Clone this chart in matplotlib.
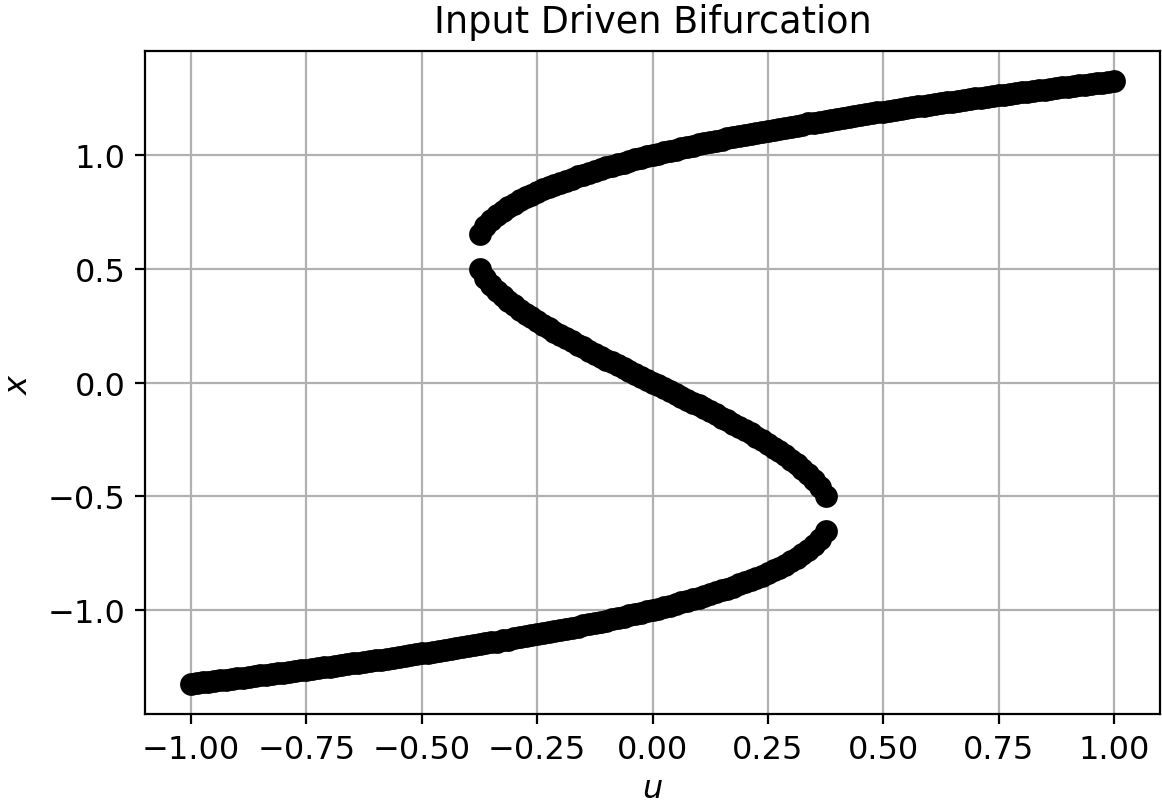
import matplotlib
matplotlib.use("Agg")
import matplotlib.pyplot as plt

# Upper branch (u from -0.375 to 1.0)
u_upper = [-0.375 + 0.0125 * i for i in range(111)]
x_upper = [0.651, 0.688, 0.714, 0.736, 0.754, 0.771, 0.786, 0.801, 0.814, 0.826,
           0.838, 0.849, 0.859, 0.869, 0.879, 0.888, 0.897, 0.906, 0.914, 0.922,
           0.930, 0.938, 0.946, 0.953, 0.960, 0.967, 0.974, 0.981, 0.987, 0.994,
           1.000, 1.006, 1.012, 1.018, 1.024, 1.030, 1.036, 1.041, 1.047, 1.052,
           1.057, 1.063, 1.068, 1.073, 1.078, 1.083, 1.088, 1.093, 1.098, 1.102,
           1.107, 1.112, 1.116, 1.121, 1.125, 1.130, 1.134, 1.139, 1.143, 1.147,
           1.151, 1.156, 1.160, 1.164, 1.168, 1.172, 1.176, 1.180, 1.184, 1.188,
           1.191, 1.195, 1.199, 1.203, 1.207, 1.210, 1.214, 1.218, 1.221, 1.225,
           1.228, 1.232, 1.235, 1.239, 1.242, 1.246, 1.249, 1.253, 1.256, 1.259,
           1.263, 1.266, 1.269, 1.272, 1.276, 1.279, 1.282, 1.285, 1.288, 1.291,
           1.295, 1.298, 1.301, 1.304, 1.307, 1.310, 1.313, 1.316, 1.319, 1.322,
           1.325]

# Middle branch (u from -0.375 to 0.375)
u_middle = [-0.375 + 0.0125 * i for i in range(61)]
x_middle = [0.500, 0.460, 0.429, 0.403, 0.380, 0.359, 0.339, 0.320, 0.303, 0.286,
            0.270, 0.254, 0.239, 0.224, 0.209, 0.195, 0.181, 0.167, 0.154, 0.140,
            0.127, 0.114, 0.101, 0.088, 0.075, 0.063, 0.050, 0.038, 0.025, 0.013,
            0.000,
            -0.013, -0.025, -0.038, -0.050, -0.063, -0.075, -0.088, -0.101, -0.114,
            -0.127, -0.140, -0.154, -0.167, -0.181, -0.195, -0.209, -0.224, -0.239,
            -0.254, -0.270, -0.286, -0.303, -0.320, -0.339, -0.359, -0.380, -0.403,
            -0.429, -0.460, -0.500]

# Lower branch (u from -1.0 to 0.375)
u_lower = [-1.0 + 0.0125 * i for i in range(111)]
x_lower = [-1.325, -1.322, -1.319, -1.316, -1.313, -1.310, -1.307, -1.304, -1.301, -1.298,
           -1.295, -1.291, -1.288, -1.285, -1.282, -1.279, -1.276, -1.272, -1.269, -1.266,
           -1.263, -1.259, -1.256, -1.253, -1.249, -1.246, -1.242, -1.239, -1.235, -1.232,
           -1.228, -1.225, -1.221, -1.218, -1.214, -1.210, -1.207, -1.203, -1.199, -1.195,
           -1.191, -1.188, -1.184, -1.180, -1.176, -1.172, -1.168, -1.164, -1.160, -1.156,
           -1.151, -1.147, -1.143, -1.139, -1.134, -1.130, -1.125, -1.121, -1.116, -1.112,
           -1.107, -1.102, -1.098, -1.093, -1.088, -1.083, -1.078, -1.073, -1.068, -1.063,
           -1.057, -1.052, -1.047, -1.041, -1.036, -1.030, -1.024, -1.018, -1.012, -1.006,
           -1.000, -0.994, -0.987, -0.981, -0.974, -0.967, -0.960, -0.953, -0.946, -0.938,
           -0.930, -0.922, -0.914, -0.906, -0.897, -0.888, -0.879, -0.869, -0.859, -0.849,
           -0.838, -0.826, -0.814, -0.801, -0.786, -0.771, -0.754, -0.736, -0.714, -0.688,
           -0.651]

fig = plt.figure(figsize=(5.81, 4.015), dpi=200)
ax = fig.add_axes([0.1248, 0.1096, 0.8735, 0.8256])
ax.plot(u_upper, x_upper, 'o', color='black', markersize=7.2)
ax.plot(u_middle, x_middle, 'o', color='black', markersize=7.2)
ax.plot(u_lower, x_lower, 'o', color='black', markersize=7.2)
ax.set_title("Input Driven Bifurcation", fontsize=13.2, pad=7)
ax.set_xlabel("$u$", fontsize=11.5, labelpad=3)
ax.set_ylabel("$x$", fontsize=11.5, labelpad=5)
ax.tick_params(labelsize=11.5, length=3.6)
ax.grid(True)
fig.savefig("out.png", dpi=200)
